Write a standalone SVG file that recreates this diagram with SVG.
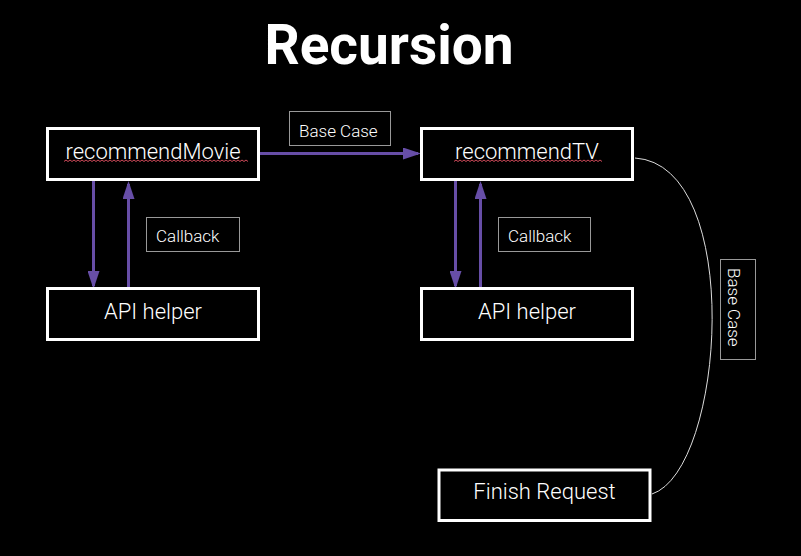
<svg xmlns="http://www.w3.org/2000/svg" width="801" height="556" viewBox="0 0 801 556">
<style>
.node rect{fill:#000;stroke:#fff;stroke-width:3}
.node text{fill:#fff;font-family:Roboto,"Liberation Sans",sans-serif;font-size:22px;font-weight:300;text-anchor:middle}
.lbl rect{fill:#000;stroke:#999;stroke-width:1}
.lbl text{fill:#fff;font-family:Roboto,"Liberation Sans",sans-serif;font-size:17px;font-weight:300}
.arr{stroke:#674ea7;stroke-width:3;fill:none;marker-end:url(#ah)}
.sq{fill:none;stroke:#d04a5a;stroke-width:1}
</style>
<defs>
<marker id="ah" markerWidth="6" markerHeight="4" refX="5" refY="2" orient="auto" markerUnits="strokeWidth">
<path d="M0,0 L6,2 L0,4 Z" fill="#674ea7"/>
</marker>
</defs>
<rect width="801" height="556" fill="#000"/>
<text x="389" y="64" fill="#fff" font-family="Roboto,'Liberation Sans',sans-serif" font-weight="bold" font-size="55" text-anchor="middle">Recursion</text>

<g id="connectors">
<line class="arr" x1="260" y1="153.5" x2="418" y2="153.5"/>
<line class="arr" x1="93.5" y1="180" x2="93.5" y2="286"/>
<line class="arr" x1="128.5" y1="288" x2="128.5" y2="184"/>
<line class="arr" x1="455.5" y1="180" x2="455.5" y2="286"/>
<line class="arr" x1="480.5" y1="288" x2="480.5" y2="184"/>
<path d="M635,158 C745,165 725,470 652,494" fill="none" stroke="#ddd" stroke-width="1"/>
</g>

<g id="lbl-basecase-top" class="lbl">
<rect x="289.5" y="111.5" width="101" height="34"/>
<text x="299" y="136.5">Base Case</text>
</g>
<g id="lbl-callback-left" class="lbl">
<rect x="146.5" y="217.5" width="93" height="34"/>
<text x="156" y="241.5">Callback</text>
</g>
<g id="lbl-callback-right" class="lbl">
<rect x="498.5" y="217.5" width="92" height="34"/>
<text x="508" y="241.5">Callback</text>
</g>
<g id="lbl-basecase-vert" class="lbl">
<rect x="720.5" y="259.5" width="35" height="100"/>
<text transform="translate(728,268) rotate(90)">Base Case</text>
</g>

<g id="recommendMovie" class="node">
<rect x="47.5" y="128.5" width="211" height="51"/>
<text x="153" y="158.5">recommendMovie</text>
<path class="sq" d="M64,161.5 l2,-1.5 l2,1.5 l2,-1.5 l2,1.5 l2,-1.5 l2,1.5 l2,-1.5 l2,1.5 l2,-1.5 l2,1.5 l2,-1.5 l2,1.5 l2,-1.5 l2,1.5 l2,-1.5 l2,1.5 l2,-1.5 l2,1.5 l2,-1.5 l2,1.5 l2,-1.5 l2,1.5 l2,-1.5 l2,1.5 l2,-1.5 l2,1.5 l2,-1.5 l2,1.5 l2,-1.5 l2,1.5 l2,-1.5 l2,1.5 l2,-1.5 l2,1.5 l2,-1.5 l2,1.5 l2,-1.5 l2,1.5 l2,-1.5 l2,1.5 l2,-1.5 l2,1.5 l2,-1.5 l2,1.5 l2,-1.5 l2,1.5 l2,-1.5 l2,1.5 l2,-1.5 l2,1.5 l2,-1.5 l2,1.5 l2,-1.5 l2,1.5 l2,-1.5 l2,1.5 l2,-1.5 l2,1.5 l2,-1.5 l2,1.5 l2,-1.5 l2,1.5 l2,-1.5 l2,1.5 l2,-1.5 l2,1.5 l2,-1.5 l2,1.5 l2,-1.5 l2,1.5 l2,-1.5 l2,1.5 l2,-1.5 l2,1.5 l2,-1.5 l2,1.5 l2,-1.5 l2,1.5 l2,-1.5 l2,1.5 l2,-1.5 l2,1.5 l2,-1.5 l2,1.5 l2,-1.5 l2,1.5 l2,-1.5 l2,1.5 l2,-1.5 l2,1.5 l2,-1.5 l2,1.5"/>
</g>
<g id="recommendTV" class="node">
<rect x="421.5" y="128.5" width="211" height="51"/>
<text x="527" y="158.5">recommendTV</text>
<path class="sq" d="M454,161.5 l2,-1.5 l2,1.5 l2,-1.5 l2,1.5 l2,-1.5 l2,1.5 l2,-1.5 l2,1.5 l2,-1.5 l2,1.5 l2,-1.5 l2,1.5 l2,-1.5 l2,1.5 l2,-1.5 l2,1.5 l2,-1.5 l2,1.5 l2,-1.5 l2,1.5 l2,-1.5 l2,1.5 l2,-1.5 l2,1.5 l2,-1.5 l2,1.5 l2,-1.5 l2,1.5 l2,-1.5 l2,1.5 l2,-1.5 l2,1.5 l2,-1.5 l2,1.5 l2,-1.5 l2,1.5 l2,-1.5 l2,1.5 l2,-1.5 l2,1.5 l2,-1.5 l2,1.5 l2,-1.5 l2,1.5 l2,-1.5 l2,1.5 l2,-1.5 l2,1.5 l2,-1.5 l2,1.5 l2,-1.5 l2,1.5 l2,-1.5 l2,1.5 l2,-1.5 l2,1.5 l2,-1.5 l2,1.5 l2,-1.5 l2,1.5 l2,-1.5 l2,1.5 l2,-1.5 l2,1.5 l2,-1.5 l2,1.5 l2,-1.5 l2,1.5 l2,-1.5 l2,1.5 l2,-1.5 l2,1.5 l2,-1.5 l2,1.5"/>
</g>
<g id="apiHelper1" class="node">
<rect x="47.5" y="288.5" width="211" height="51"/>
<text x="153" y="319">API helper</text>
</g>
<g id="apiHelper2" class="node">
<rect x="421.5" y="288.5" width="211" height="51"/>
<text x="527" y="319">API helper</text>
</g>
<g id="finishRequest" class="node">
<rect x="439" y="470" width="211" height="50.5"/>
<text x="544.5" y="499">Finish Request</text>
</g>
</svg>
